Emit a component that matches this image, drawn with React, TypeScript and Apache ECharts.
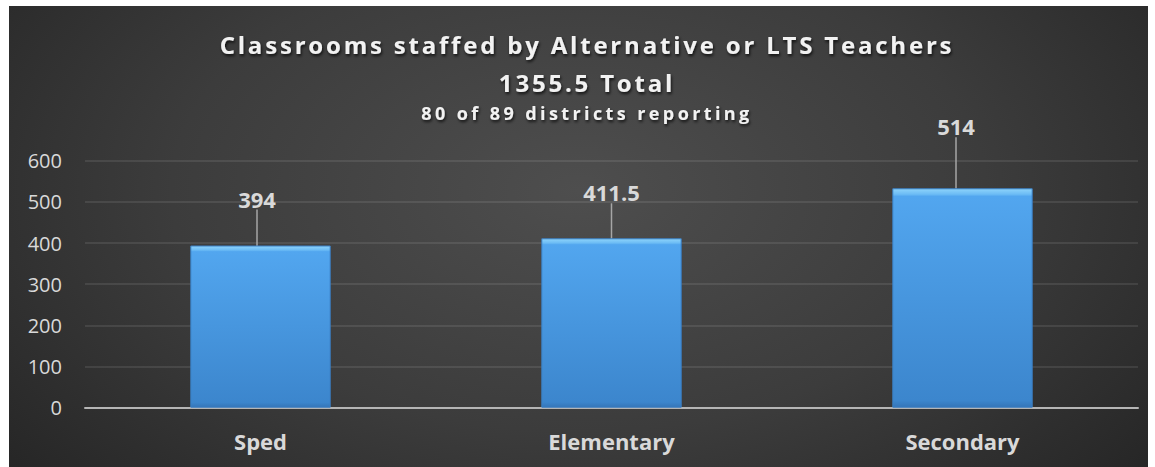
import React, { useEffect, useRef } from "react";
import * as echarts from "echarts";

const categories = ["Sped", "Elementary", "Secondary"];
const barValues = [394, 411.5, 533];
const dataLabels = ["394", "411.5", "514"];
const titleLines = [
  "Classrooms staffed by Alternative or LTS Teachers",
  "1355.5 Total",
  "80 of 89 districts reporting",
];
const labelDx = [-3.5, 0, -6.5];
const labelDy = [-31, -30, -46];

const FONT = "'Open Sans', 'Noto Sans', sans-serif";
const TITLE_FONT_A = "'Open Sans', TitleFaceA, sans-serif";
const TITLE_FONT_C = "'Open Sans', TitleFaceC, sans-serif";

const css = `
#chartbox text[style*="TitleFaceA"], #chartbox text[font-family*="TitleFaceA"] { letter-spacing: 2.8px; }
#chartbox text[style*="TitleFaceC"], #chartbox text[font-family*="TitleFaceC"] { letter-spacing: 3.4px; }
`;

export default function App() {
  const ref = useRef<HTMLDivElement>(null);
  useEffect(() => {
    if (!ref.current) return;
    const chart = echarts.init(ref.current, null, { renderer: "svg" });
    const shadow = {
      textShadowColor: "rgba(0,0,0,0.75)",
      textShadowBlur: 3,
      textShadowOffsetX: 1,
      textShadowOffsetY: 2,
    };
    const titleX = 573;
    chart.setOption({
      animation: false,
      backgroundColor: "transparent",
      title: [
        {
          text: titleLines[0],
          left: titleX,
          textAlign: "center",
          top: 21,
          textStyle: { color: "#f2f2f2", fontFamily: TITLE_FONT_A, fontWeight: "bold", fontSize: 24, ...shadow },
        },
        {
          text: titleLines[1],
          left: titleX,
          textAlign: "center",
          top: 59,
          textStyle: { color: "#f2f2f2", fontFamily: TITLE_FONT_A, fontWeight: "bold", fontSize: 24, ...shadow },
        },
        {
          text: titleLines[2],
          left: titleX,
          textAlign: "center",
          top: 93,
          textStyle: { color: "#f2f2f2", fontFamily: TITLE_FONT_C, fontWeight: "bold", fontSize: 18, ...shadow },
        },
      ],
      grid: { left: 76, right: 10, top: 154.7, bottom: 59.3, containLabel: false },
      xAxis: {
        type: "category",
        data: categories,
        axisLine: { lineStyle: { color: "#b5b5b5", width: 2 } },
        axisTick: { show: false },
        axisLabel: {
          color: "#d9d9d9",
          fontFamily: FONT,
          fontWeight: "bold",
          fontSize: 22,
          margin: 22,
        },
      },
      yAxis: {
        type: "value",
        min: 0,
        max: 600,
        interval: 100,
        axisLine: { show: false },
        axisTick: { show: false },
        axisLabel: { color: "#d9d9d9", fontFamily: FONT, fontSize: 20, margin: 23 },
        splitLine: { lineStyle: { color: "rgba(255,255,255,0.12)", width: 1.5 } },
      },
      series: [
        {
          type: "bar",
          data: barValues,
          barCategoryGap: "60%",
          itemStyle: {
            color: new echarts.graphic.LinearGradient(0, 0, 0, 1, [
              { offset: 0, color: "#8fd4fb" },
              { offset: 0.025, color: "#6cbcf5" },
              { offset: 0.035, color: "#52a6ef" },
              { offset: 0.97, color: "#3c86cd" },
              { offset: 1, color: "#3475b8" },
            ]),
            borderColor: "#3a7fc4",
            borderWidth: 1,
          },
          label: {
            show: true,
            position: "top",
            distance: 5,
            color: "#d9d9d9",
            fontFamily: FONT,
            fontWeight: "bold",
            fontSize: 22,
            formatter: (p: any) => dataLabels[p.dataIndex],
          },
          labelLayout: (p: any) => ({ dx: labelDx[p.dataIndex], dy: labelDy[p.dataIndex] }),
          labelLine: { show: true, lineStyle: { color: "#a6a6a6", width: 1.5 } },
        },
      ],
    });
    return () => chart.dispose();
  }, []);
  return (
    <>
      <style>{css}</style>
      <div
        id="chartbox"
        ref={ref}
        style={{
          position: "absolute",
          left: 9,
          top: 6,
          width: 1139,
          height: 461,
          background:
            "radial-gradient(ellipse 65% 95% at 50% 40%, #4e4e4e 0%, #3c3c3c 55%, #262626 100%)",
        }}
      />
    </>
  );
}
